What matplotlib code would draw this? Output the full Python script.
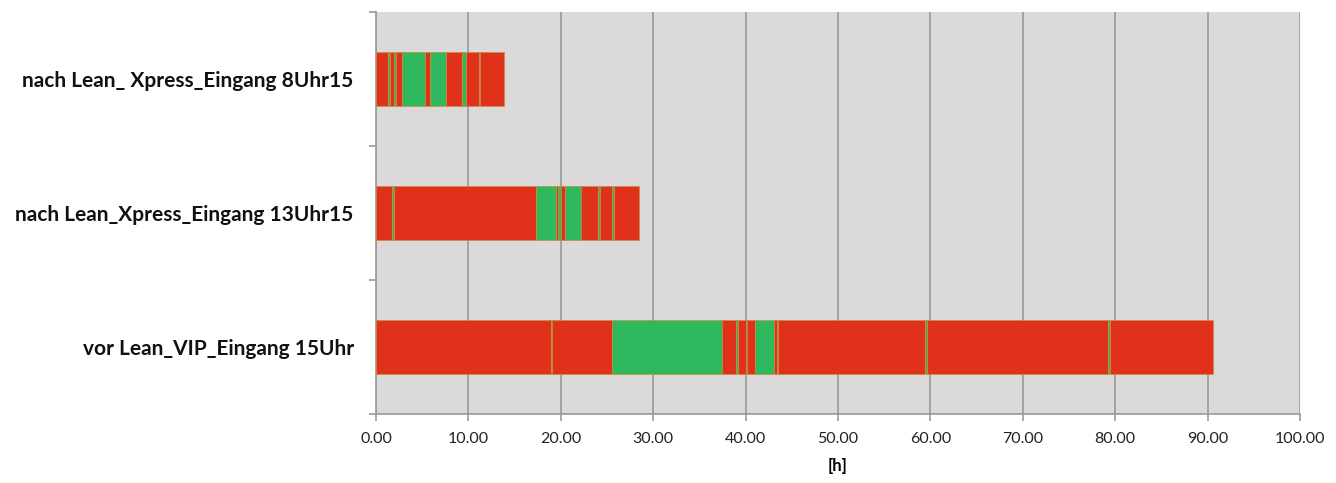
import matplotlib.pyplot as plt

# process steps per scenario: durations in hours, alternating red (waiting) / green (value add)
labels = [
    "vor Lean_VIP_Eingang 15Uhr",
    "nach Lean_Xpress_Eingang 13Uhr15",
    "nach Lean_ Xpress_Eingang 8Uhr15",
]

vip_15 = [18.9, 0.2, 6.4, 12.0, 1.5, 0.15, 0.85, 0.15, 0.85, 2.1, 0.3, 0.15,
          15.9, 0.2, 19.6, 0.15, 11.2]
xpress_1315 = [1.75, 0.25, 15.35, 2.15, 0.2, 0.3, 0.5, 1.7, 1.8, 0.25, 1.25, 0.25, 2.75]
xpress_815 = [1.3, 0.2, 0.5, 0.2, 0.6, 2.5, 0.6, 1.7, 1.7, 0.4, 1.4, 0.2, 2.6]

durations = [vip_15, xpress_1315, xpress_815]

RED = "#e0321a"
GREEN = "#2fb95e"
EDGE = "#c98d3c"

fig = plt.figure(figsize=(13.36, 4.83), dpi=100)
ax = fig.add_axes([0.2814, 0.143, 0.6916, 0.832])
ax.set_facecolor("#dbd9da")

for row, steps in enumerate(durations):
    left = 0.0
    for i, d in enumerate(steps):
        ax.barh(row, d, left=left, height=0.4,
                color=RED if i % 2 == 0 else GREEN,
                edgecolor=EDGE, linewidth=0.5, zorder=3)
        left += d

ax.set_xlim(0, 100)
ax.set_ylim(-0.5, 2.5)
ax.set_xticks(range(0, 101, 10))
ax.set_xticklabels([f"{v:.2f}" for v in range(0, 101, 10)],
                   fontsize=11.5, family="Lato", color="#222222")
ax.xaxis.grid(True, color="#9a9a9a", linewidth=1.2, zorder=1)
ax.set_axisbelow(True)

ax.set_yticks([0, 1, 2])
ax.set_yticklabels(labels, fontsize=15, family="Lato", fontweight="bold", color="#111111")
ax.set_yticks([-0.5, 0.5, 1.5, 2.5], minor=True)
ax.tick_params(axis="y", which="major", length=0, pad=16)
ax.tick_params(axis="y", which="minor", length=5, color="#9a9a9a", width=1.2)
ax.tick_params(axis="x", length=5, color="#9a9a9a", width=1.2, pad=8)

for side in ["top", "right"]:
    ax.spines[side].set_visible(False)
for side in ["left", "bottom"]:
    ax.spines[side].set_color("#9a9a9a")
    ax.spines[side].set_linewidth(1.2)

ax.set_xlabel("[h]", fontsize=12, family="Lato", fontweight="bold", labelpad=9)

fig.savefig("out.png", dpi=100)
